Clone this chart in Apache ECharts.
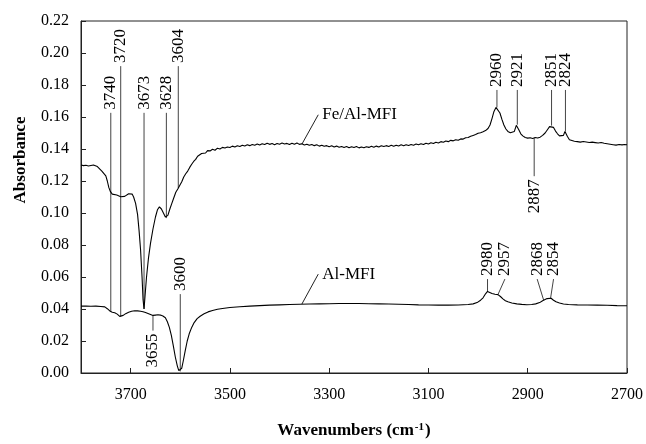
<!DOCTYPE html>
<html lang="en">

<head>
    <meta charset="UTF-8">
    <title>Fe/Al-MFI vs Al-MFI IR spectra</title>
    <script src="https://cdn.jsdelivr.net/npm/echarts@6/dist/echarts.min.js"></script>
    <style>
        body {
            margin: 0;
            background: #fff;
        }

        #chart {
            width: 646px;
            height: 444px;
        }
    </style>
</head>

<body>
    <div id="chart"></div>
    <script>
        // x tick labels (cm-1), axis runs high -> low
        const waveTicks = [3700, 3500, 3300, 3100, 2900, 2700];

        // Fe/Al-MFI spectrum
        const feWave = [3800, 3795, 3790, 3785, 3780, 3775, 3771, 3767, 3763, 3758, 3754, 3750, 3747, 3744, 3741, 3737, 3733, 3728, 3724, 3720,
            3716, 3712, 3708, 3704, 3700, 3697, 3694, 3690, 3686, 3683, 3680, 3677, 3675, 3673, 3671, 3668, 3664, 3660, 3655, 3650,
            3646, 3642, 3638, 3634, 3630, 3628, 3625, 3621, 3617, 3613, 3609, 3605, 3601, 3597, 3593, 3589, 3585, 3581, 3577, 3573,
            3569, 3565, 3561, 3557, 3553, 3549, 3545, 3540, 3535, 3530, 3525, 3520, 3515, 3510, 3505, 3500, 3495, 3490, 3485, 3480,
            3475, 3470, 3465, 3460, 3455, 3450, 3445, 3440, 3435, 3430, 3425, 3420, 3415, 3410, 3405, 3400, 3395, 3390, 3385, 3380,
            3375, 3370, 3365, 3360, 3355, 3350, 3345, 3340, 3335, 3330, 3325, 3320, 3315, 3310, 3305, 3300, 3295, 3290, 3285, 3280,
            3275, 3270, 3265, 3260, 3255, 3250, 3245, 3240, 3235, 3230, 3225, 3220, 3215, 3210, 3205, 3200, 3195, 3190, 3185, 3180,
            3175, 3170, 3165, 3160, 3155, 3150, 3145, 3140, 3135, 3130, 3125, 3120, 3115, 3110, 3105, 3100, 3095, 3090, 3085, 3080,
            3075, 3070, 3065, 3060, 3055, 3050, 3045, 3040, 3035, 3030, 3025, 3020, 3015, 3010, 3005, 3000, 2995, 2990, 2985, 2980,
            2976, 2972, 2968, 2964, 2960, 2956, 2952, 2948, 2944, 2940, 2935, 2931, 2927, 2923, 2921, 2918, 2914, 2910, 2905, 2900,
            2895, 2890, 2885, 2880, 2875, 2870, 2865, 2860, 2856, 2852, 2848, 2844, 2840, 2836, 2832, 2828, 2825, 2823, 2820, 2816,
            2812, 2806, 2800, 2794, 2788, 2782, 2776, 2770, 2764, 2758, 2752, 2746, 2740, 2734, 2728, 2722, 2716, 2710, 2705, 2700];
        const feAbs = [0.1300, 0.1296, 0.1298, 0.1294, 0.1297, 0.1300, 0.1308, 0.1290, 0.1278, 0.1262, 0.1250, 0.1232, 0.1200, 0.1160, 0.1135, 0.1118, 0.1110, 0.1112, 0.1105, 0.1102,
            0.1108, 0.1104, 0.1112, 0.1120, 0.1125, 0.1118, 0.1100, 0.1060, 0.0990, 0.0890, 0.0770, 0.0600, 0.0460, 0.0400, 0.0480, 0.0600, 0.0720, 0.0810, 0.0900, 0.0975,
            0.1020, 0.1038, 0.1025, 0.1000, 0.0975, 0.0968, 0.0985, 0.1025, 0.1060, 0.1095, 0.1130, 0.1150, 0.1162, 0.1195, 0.1225, 0.1245, 0.1262, 0.1285, 0.1305, 0.1322,
            0.1335, 0.1355, 0.1348, 0.1372, 0.1380, 0.1375, 0.1390, 0.1388, 0.1398, 0.1392, 0.1405, 0.1400, 0.1410, 0.1406, 0.1413, 0.1409, 0.1418, 0.1412, 0.1420, 0.1416,
            0.1424, 0.1419, 0.1426, 0.1421, 0.1428, 0.1424, 0.1431, 0.1425, 0.1433, 0.1428, 0.1436, 0.1429, 0.1434, 0.1427, 0.1435, 0.1430, 0.1437, 0.1431, 0.1435, 0.1428,
            0.1436, 0.1430, 0.1438, 0.1429, 0.1433, 0.1425, 0.1430, 0.1423, 0.1428, 0.1421, 0.1426, 0.1418, 0.1424, 0.1417, 0.1421, 0.1414, 0.1420, 0.1412, 0.1418, 0.1411,
            0.1416, 0.1410, 0.1415, 0.1408, 0.1414, 0.1409, 0.1415, 0.1407, 0.1413, 0.1408, 0.1414, 0.1410, 0.1417, 0.1411, 0.1418, 0.1412, 0.1420, 0.1415, 0.1421, 0.1416,
            0.1423, 0.1417, 0.1424, 0.1419, 0.1426, 0.1420, 0.1427, 0.1422, 0.1428, 0.1424, 0.1431, 0.1426, 0.1433, 0.1428, 0.1436, 0.1431, 0.1439, 0.1434, 0.1442, 0.1438,
            0.1446, 0.1442, 0.1450, 0.1446, 0.1454, 0.1451, 0.1458, 0.1455, 0.1463, 0.1462, 0.1470, 0.1472, 0.1480, 0.1485, 0.1490, 0.1498, 0.1502, 0.1508, 0.1515, 0.1528,
            0.1550, 0.1590, 0.1635, 0.1660, 0.1655, 0.1625, 0.1585, 0.1550, 0.1525, 0.1510, 0.1502, 0.1498, 0.1510, 0.1548, 0.1552, 0.1520, 0.1495, 0.1482, 0.1472, 0.1468,
            0.1470, 0.1466, 0.1472, 0.1469, 0.1474, 0.1485, 0.1500, 0.1522, 0.1540, 0.1546, 0.1535, 0.1512, 0.1495, 0.1482, 0.1478, 0.1485, 0.1510, 0.1508, 0.1478, 0.1458,
            0.1452, 0.1448, 0.1446, 0.1443, 0.1447, 0.1444, 0.1441, 0.1443, 0.1440, 0.1437, 0.1441, 0.1436, 0.1433, 0.1430, 0.1427, 0.1424, 0.1428, 0.1426, 0.1428, 0.1427];

        // Al-MFI spectrum
        const alWave = [3800, 3790, 3780, 3770, 3760, 3752, 3747, 3742, 3737, 3732, 3727, 3722, 3719, 3715, 3710, 3704, 3698, 3692, 3686, 3680,
            3675, 3670, 3665, 3660, 3655, 3650, 3645, 3640, 3635, 3630, 3626, 3622, 3618, 3614, 3610, 3606, 3603, 3600, 3597, 3594,
            3590, 3586, 3582, 3577, 3572, 3566, 3560, 3552, 3544, 3535, 3525, 3515, 3500, 3480, 3460, 3440, 3420, 3400, 3380, 3360,
            3340, 3320, 3300, 3280, 3260, 3240, 3220, 3200, 3180, 3160, 3140, 3120, 3100, 3080, 3060, 3040, 3020, 3010, 3002, 2995,
            2990, 2985, 2981, 2977, 2972, 2966, 2960, 2955, 2950, 2945, 2940, 2932, 2922, 2912, 2902, 2892, 2884, 2876, 2870, 2866,
            2861, 2857, 2853, 2848, 2843, 2836, 2828, 2818, 2800, 2780, 2760, 2740, 2720, 2700];
        const alAbs = [0.0418, 0.0419, 0.0417, 0.0418, 0.0416, 0.0413, 0.0402, 0.0388, 0.0380, 0.0376, 0.0368, 0.0354, 0.0352, 0.0360, 0.0371, 0.0380, 0.0386, 0.0389, 0.0388, 0.0386,
            0.0383, 0.0378, 0.0372, 0.0366, 0.0360, 0.0362, 0.0364, 0.0362, 0.0356, 0.0345, 0.0320, 0.0285, 0.0235, 0.0170, 0.0100, 0.0045, 0.0015, 0.0008, 0.0030, 0.0075,
            0.0140, 0.0200, 0.0245, 0.0285, 0.0315, 0.0340, 0.0355, 0.0370, 0.0382, 0.0391, 0.0398, 0.0403, 0.0409, 0.0414, 0.0418, 0.0421, 0.0424, 0.0426, 0.0428, 0.0430,
            0.0431, 0.0432, 0.0433, 0.0434, 0.0434, 0.0434, 0.0433, 0.0432, 0.0431, 0.0430, 0.0428, 0.0426, 0.0425, 0.0424, 0.0424, 0.0425, 0.0428, 0.0432, 0.0440, 0.0455,
            0.0470, 0.0495, 0.0510, 0.0505, 0.0497, 0.0492, 0.0490, 0.0478, 0.0463, 0.0452, 0.0445, 0.0438, 0.0432, 0.0429, 0.0427, 0.0428, 0.0432, 0.0440, 0.0452, 0.0459,
            0.0465, 0.0469, 0.0467, 0.0455, 0.0445, 0.0437, 0.0431, 0.0428, 0.0426, 0.0425, 0.0424, 0.0423, 0.0421, 0.0420];

        // peak labels: t = text, w/a = text end of the leader, w1/a1 = curve end
        const peakNotes = [
            { t: '3740', w: 3740, a: 0.1626, w1: 3740, a1: 0.0385 },
            { t: '3720', w: 3720, a: 0.1918, w1: 3720, a1: 0.0352 },
            { t: '3673', w: 3673, a: 0.1626, w1: 3673, a1: 0.0400 },
            { t: '3628', w: 3628, a: 0.1626, w1: 3628, a1: 0.0968 },
            { t: '3604', w: 3604, a: 0.1918, w1: 3604, a1: 0.1155 },
            { t: '2960', w: 2962, a: 0.1769, w1: 2962, a1: 0.1660 },
            { t: '2921', w: 2921, a: 0.1769, w1: 2921, a1: 0.1552 },
            { t: '2887', w: 2887, a: 0.1230, w1: 2887, a1: 0.1468 },
            { t: '2851', w: 2852, a: 0.1769, w1: 2852, a1: 0.1546 },
            { t: '2824', w: 2824, a: 0.1769, w1: 2824, a1: 0.1510 },
            { t: '3655', w: 3655, a: 0.0265, w1: 3655, a1: 0.0360 },
            { t: '3600', w: 3600, a: 0.0493, w1: 3600, a1: 0.0010 },
            { t: '2980', w: 2981, a: 0.0587, w1: 2981, a1: 0.0510 },
            { t: '2957', w: 2946, a: 0.0587, w1: 2960, a1: 0.0490 },
            { t: '2868', w: 2881, a: 0.0587, w1: 2868, a1: 0.0456 },
            { t: '2854', w: 2848, a: 0.0587, w1: 2854, a1: 0.0467 }
        ];

        // series names with leader lines
        const seriesNotes = [
            { t: 'Fe/Al-MFI', w: 3322, a: 0.1614, w1: 3355, a1: 0.1430 },
            { t: 'Al-MFI', w: 3322, a: 0.0618, w1: 3355, a1: 0.0431 }
        ];

        const serif = '"Liberation Serif", "Times New Roman", serif';
        const pairs = (xs, ys) => xs.map((x, i) => [x, ys[i]]);

        const chart = echarts.init(document.getElementById('chart'));
        chart.setOption({
            animation: false,
            backgroundColor: '#fff',
            grid: {
                left: 81, right: 19, top: 21, bottom: 70,
                show: true, borderColor: '#222', borderWidth: 1
            },
            xAxis: {
                type: 'value',
                inverse: true,
                min: 2700,
                max: 3800,
                name: '{b|Wavenumbers (cm}{s|-1}{b|)}',
                nameLocation: 'middle',
                nameGap: 49,
                nameTextStyle: {
                    rich: {
                        b: { fontFamily: serif, fontSize: 17, fontWeight: 'bold', color: '#000' },
                        s: { fontFamily: serif, fontSize: 11, fontWeight: 'bold', color: '#000', verticalAlign: 'top', padding: [0, 1, 0, 1] }
                    }
                },
                axisLine: { lineStyle: { color: '#222', width: 1 } },
                axisTick: { inside: true, length: 5, customValues: waveTicks, lineStyle: { color: '#222' } },
                axisLabel: {
                    customValues: waveTicks, fontFamily: serif, fontSize: 16, color: '#000', margin: 14,
                    formatter: v => String(v)
                },
                splitLine: { show: false }
            },
            yAxis: {
                type: 'value',
                min: 0,
                max: 0.22,
                interval: 0.02,
                axisLine: { show: true, lineStyle: { color: '#222', width: 1 } },
                axisTick: { show: true, inside: true, length: 5, lineStyle: { color: '#222' } },
                axisLabel: {
                    fontFamily: serif, fontSize: 16, color: '#000', margin: 12,
                    formatter: v => v.toFixed(2)
                },
                splitLine: { show: false }
            },
            series: [
                {
                    name: 'Fe/Al-MFI', type: 'line', showSymbol: false,
                    data: pairs(feWave, feAbs),
                    lineStyle: { color: '#000', width: 1.1 }
                },
                {
                    name: 'Al-MFI', type: 'line', showSymbol: false,
                    data: pairs(alWave, alAbs),
                    lineStyle: { color: '#000', width: 1.1 }
                }
            ]
        });

        // leader lines + labels, positioned through the chart's own scales
        function drawNotes() {
            const toPx = (w, a) => chart.convertToPixel({ gridIndex: 0 }, [w, a]);
            const els = [];
            peakNotes.forEach(n => {
                const p0 = toPx(n.w, n.a);
                const p1 = toPx(n.w1, n.a1);
                els.push({
                    type: 'line', silent: true,
                    shape: { x1: p0[0], y1: p0[1], x2: p1[0], y2: p1[1] },
                    style: { stroke: '#444', lineWidth: 1 }
                });
                const up = n.a > n.a1;
                els.push({
                    type: 'text', silent: true,
                    x: p0[0], y: p0[1] + (up ? -3 : 3),
                    rotation: Math.PI / 2,
                    style: {
                        text: n.t, font: '17px ' + serif, fill: '#000',
                        textAlign: up ? 'left' : 'right', align: up ? 'left' : 'right',
                        textVerticalAlign: 'middle', verticalAlign: 'middle'
                    }
                });
            });
            seriesNotes.forEach(n => {
                const p0 = toPx(n.w, n.a);
                const p1 = toPx(n.w1, n.a1);
                els.push({
                    type: 'line', silent: true,
                    shape: { x1: p0[0], y1: p0[1], x2: p1[0], y2: p1[1] },
                    style: { stroke: '#222', lineWidth: 1 }
                });
                els.push({
                    type: 'text', silent: true,
                    x: p0[0] + 4, y: p0[1],
                    style: {
                        text: n.t, font: '17px ' + serif, fill: '#000',
                        textAlign: 'left', align: 'left',
                        textVerticalAlign: 'middle', verticalAlign: 'middle'
                    }
                });
            });
            els.push({
                type: 'text', silent: true,
                x: 21, y: 160,
                rotation: Math.PI / 2,
                style: {
                    text: 'Absorbance', font: 'bold 17px ' + serif, fill: '#000',
                    textAlign: 'center', align: 'center',
                    textVerticalAlign: 'middle', verticalAlign: 'middle'
                }
            });
            chart.setOption({ graphic: els });
        }
        drawNotes();
    </script>
</body>

</html>
